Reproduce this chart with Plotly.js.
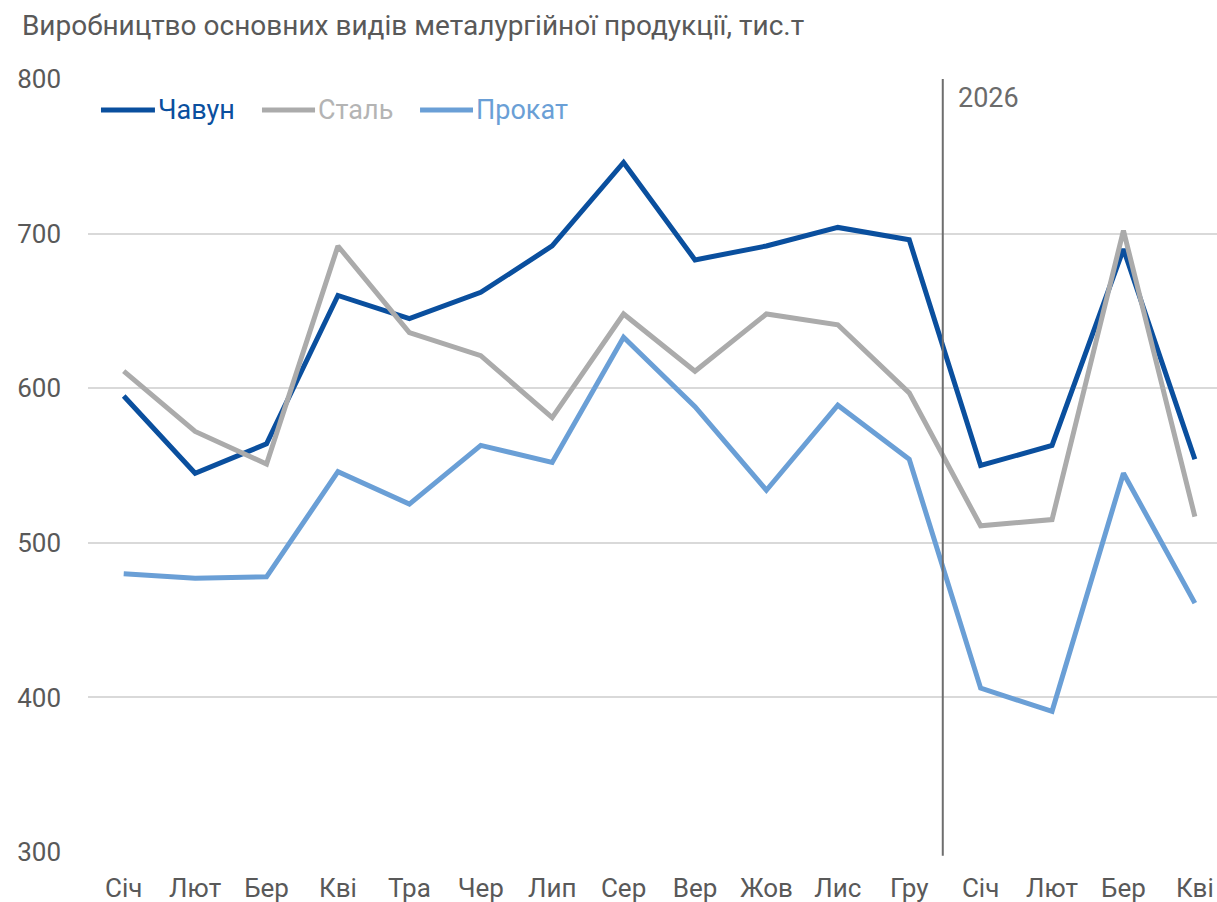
<!DOCTYPE html>
<html>
<head>
<meta charset="utf-8">
<script src="https://cdn.plot.ly/plotly-3.0.1.min.js"></script>
<style>
html,body{margin:0;padding:0;background:#fff;}
#chart{width:1217px;height:902px;}
</style>
</head>
<body>
<div id="chart"></div>
<script>
const months = ["Січ","Лют","Бер","Кві","Тра","Чер","Лип","Сер","Вер","Жов","Лис","Гру","Січ","Лют","Бер","Кві"];
const chavun = [595, 545, 564, 660, 645, 662, 692, 746, 683, 692, 704, 696, 550, 563, 690, 554];
const stal   = [611, 572, 551, 692, 636, 621, 581, 648, 611, 648, 641, 597, 511, 515, 702, 517];
const prokat = [480, 477, 478, 546, 525, 563, 552, 633, 588, 534, 589, 554, 406, 391, 545, 461];
const seriesNames = ["Чавун","Сталь","Прокат"];
const seriesColors = ["#0A4F9E","#ABABAB","#6A9FD6"];
const legendTextColors = ["#0A4F9E","#B4B4B4","#6A9FD6"];
const yearLabel = "2026";
const titleText = "Виробництво основних видів металургійної продукції, тис.т";

const x = months.map((m,i)=>i);
const data = [chavun, stal, prokat].map((vals, k) => ({
  x: x, y: vals, type: "scatter", mode: "lines",
  name: seriesNames[k],
  line: {color: seriesColors[k], width: 5},
  showlegend: false,
  hoverinfo: "y"
}));

// manual legend (paper coordinates)
const legendX = [[0.0115, 0.0593], [0.1541, 0.2011], [0.2941, 0.3410]];
const legendY = 0.9599;
const shapes = [{
  type: "line", xref: "x", yref: "paper", x0: 11.47, x1: 11.47, y0: -0.005, y1: 1.0,
  line: {color: "#6E6E6E", width: 2}
}];
const annotations = [{
  xref: "x", yref: "paper", x: 11.47, y: 0.975, xanchor: "left", yanchor: "middle",
  xshift: 13, text: yearLabel, showarrow: false, font: {size: 27, color: "#6B6B6B"}
}];
seriesNames.forEach((n, k) => {
  shapes.push({type: "line", xref: "paper", yref: "paper",
    x0: legendX[k][0], x1: legendX[k][1], y0: legendY, y1: legendY,
    line: {color: seriesColors[k], width: 5}});
  annotations.push({xref: "paper", yref: "paper", x: legendX[k][1], y: legendY,
    xanchor: "left", yanchor: "middle", xshift: 1, text: n, showarrow: false,
    font: {size: 27, color: legendTextColors[k]}});
});

const layout = {
  width: 1217, height: 902,
  margin: {l: 88, r: 0, t: 79, b: 50},
  paper_bgcolor: "#fff", plot_bgcolor: "#fff",
  font: {family: "Roboto, sans-serif", size: 26, color: "#595959"},
  title: {text: titleText, x: 0.018, xanchor: "left", y: 0.972, yanchor: "middle",
          font: {family: "Roboto, sans-serif", size: 28, color: "#595959"}},
  showlegend: false,
  xaxis: {
    tickmode: "array", tickvals: x, ticktext: months,
    range: [-0.5, 15.31], showgrid: false, zeroline: false, showline: false,
    ticks: "", ticklabelstandoff: 18, tickfont: {size: 26, color: "#595959"}, fixedrange: true
  },
  yaxis: {
    range: [300, 800], dtick: 100, tick0: 300, showgrid: true, gridcolor: "#D9D9D9", gridwidth: 2,
    zeroline: false, showline: false, ticks: "", ticklabelstandoff: 26,
    tickfont: {size: 26, color: "#595959"}, fixedrange: true
  },
  shapes: shapes,
  annotations: annotations
};

Plotly.newPlot("chart", data, layout, {displayModeBar: false, staticPlot: true});
</script>
</body>
</html>
